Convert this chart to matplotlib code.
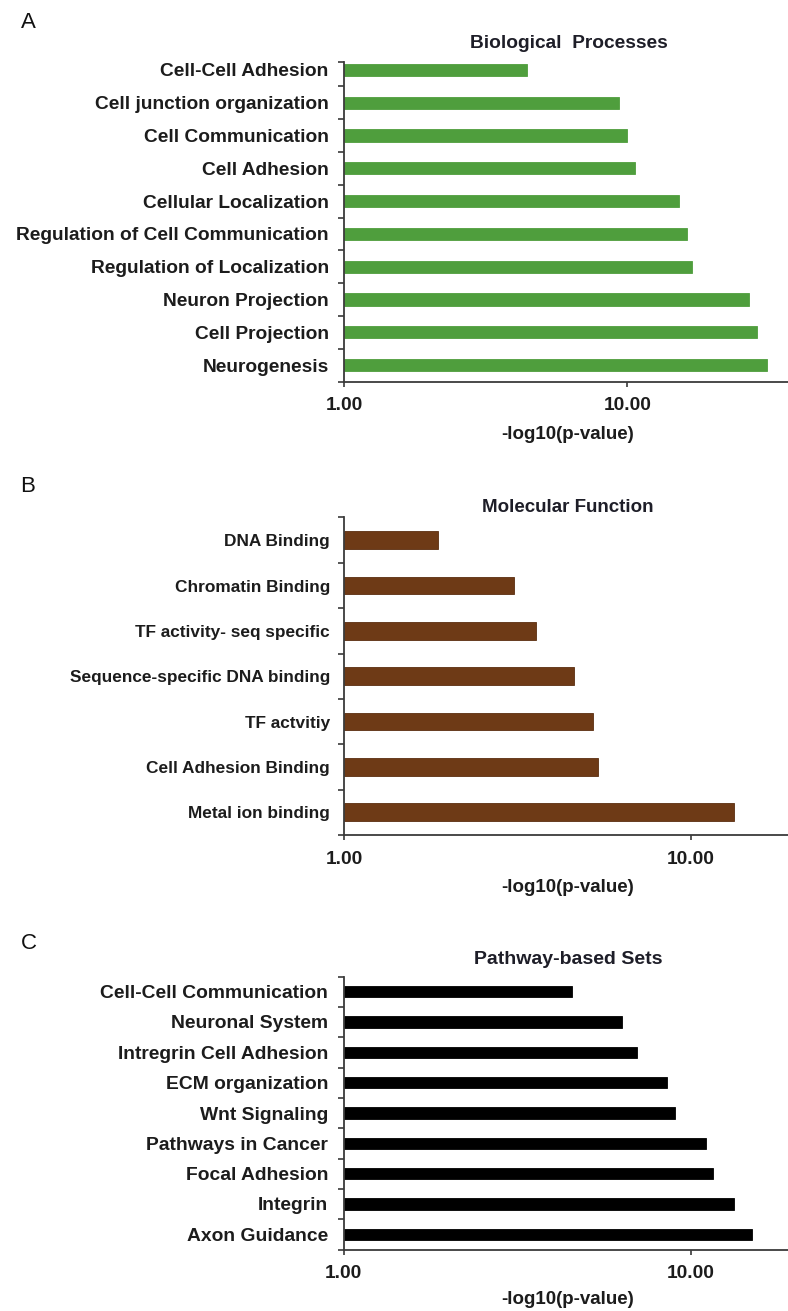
import matplotlib
matplotlib.use("Agg")
import matplotlib.pyplot as plt
import numpy as np
from matplotlib.ticker import FixedLocator, NullLocator, FuncFormatter

plt.rcParams['font.family'] = ['Liberation Sans', 'DejaVu Sans']

# ---- data (listed top to bottom as displayed) ----
bp_terms = ["Cell-Cell Adhesion", "Cell junction organization", "Cell Communication",
            "Cell Adhesion", "Cellular Localization", "Regulation of Cell Communication",
            "Regulation of Localization", "Neuron Projection", "Cell Projection",
            "Neurogenesis"]
bp_values = [4.42, 9.37, 10.0, 10.67, 15.2, 16.25, 16.9, 26.8, 28.6, 31.1]

mf_terms = ["DNA Binding", "Chromatin Binding", "TF activity- seq specific",
            "Sequence-specific DNA binding", "TF actvitiy", "Cell Adhesion Binding",
            "Metal ion binding"]
mf_values = [1.86, 3.08, 3.58, 4.59, 5.22, 5.40, 13.3]

pw_terms = ["Cell-Cell Communication", "Neuronal System", "Intregrin Cell Adhesion",
            "ECM organization", "Wnt Signaling", "Pathways in Cancer", "Focal Adhesion",
            "Integrin", "Axon Guidance"]
pw_values = [4.54, 6.34, 6.97, 8.55, 9.01, 11.07, 11.55, 13.3, 14.96]

x_ticks = [1, 10]
x_label = "-log10(p-value)"

W, H = 788, 1311
DPI = 100
fig = plt.figure(figsize=(W / DPI, H / DPI), dpi=DPI)
fig.patch.set_facecolor("white")

TEXT = "#1c1c1c"
SPINE = "#3a3a3a"


def px_axes(left, top, right, bottom):
    return fig.add_axes([left / W, 1 - bottom / H, (right - left) / W, (bottom - top) / H])


def panel(box, terms, values, color, xmax, ytop, bar_h, label_size, label_pad,
          title, title_size, title_xy, letter, letter_xy, xlabel_y, edge):
    ax = px_axes(*box)
    n = len(terms)
    ypos = np.arange(n)[::-1]
    vals = np.asarray(values, dtype=float)
    ax.barh(ypos, vals - 1.0, left=1.0, height=bar_h, color=color,
            edgecolor=edge, linewidth=0.6)
    ax.set_xscale("log")
    ax.set_xlim(1, xmax)
    ax.set_ylim(-0.5, ytop)

    ax.xaxis.set_major_locator(FixedLocator(x_ticks))
    ax.xaxis.set_minor_locator(NullLocator())
    ax.xaxis.set_major_formatter(FuncFormatter(lambda v, p: f"{v:.2f}"))
    ax.tick_params(axis="x", which="major", direction="out", length=3.5, width=1.2,
                   color=SPINE, pad=8, labelsize=13.8, labelcolor=TEXT)
    for t in ax.get_xticklabels():
        t.set_fontweight("bold")

    ax.yaxis.set_major_locator(FixedLocator(list(ypos)))
    ax.set_yticklabels(terms)
    bounds = list(np.arange(n) - 0.5) + [ytop]
    ax.yaxis.set_minor_locator(FixedLocator(bounds))
    ax.tick_params(axis="y", which="major", length=0, pad=label_pad,
                   labelsize=label_size, labelcolor=TEXT)
    ax.tick_params(axis="y", which="minor", direction="out", length=4, width=1.2,
                   color=SPINE)
    for t in ax.get_yticklabels():
        t.set_fontweight("bold")

    for s in ["top", "right"]:
        ax.spines[s].set_visible(False)
    for s in ["left", "bottom"]:
        ax.spines[s].set_color(SPINE)
        ax.spines[s].set_linewidth(1.3)
    ax.set_facecolor("none")

    fig.text(title_xy[0] / W, 1 - title_xy[1] / H, title, ha="center", va="center",
             fontsize=title_size, fontweight="bold", color="#1e1e28")
    fig.text(letter_xy[0] / W, 1 - letter_xy[1] / H, letter, ha="center", va="center",
             fontsize=16, color="#111111")
    fig.text(567.5 / W, 1 - xlabel_y / H, x_label, ha="center", va="center",
             fontsize=13.5, fontweight="bold", color=TEXT)
    return ax


# Biological processes
panel((344, 61.7, 788, 381.5), bp_terms, bp_values, "#4f9e3d",
      10 ** ((788 - 344) / 283.3), 9.25, 0.376, 13.8, 11,
      "Biological  Processes", 13.8, (569, 43), "A", (28, 22.5), 435, "#4f9e3d")

# Molecular function
panel((344, 517.5, 788, 835), mf_terms, mf_values, "#6e3a16",
      10 ** ((788 - 344) / 347.0), 6.5, 0.39, 12.4, 10,
      "Molecular Function", 13.5, (567.5, 508), "B", (28, 486.5), 887, "#5a2e10")

# Pathway-based sets
panel((343.5, 976.5, 788, 1249.5), pw_terms, pw_values, "#000000",
      10 ** ((788 - 343.5) / 347.5), 8.5, 0.373, 13.9, 11,
      "Pathway-based Sets", 14, (568, 960), "C", (28.5, 943.5), 1300, "#000000")

fig.savefig("out.png", dpi=DPI, facecolor="white")
